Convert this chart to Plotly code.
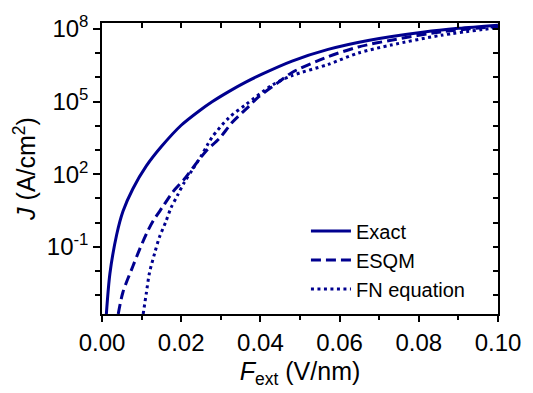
import numpy as np
import plotly.graph_objects as go

# Data (F in V/nm, log10 of J in A/cm^2)
F_exact = [0.0011, 0.0020, 0.0037, 0.0053, 0.0078, 0.0112, 0.0150, 0.0200, 0.0246, 0.0279,
           0.0321, 0.0363, 0.0404, 0.0480, 0.0571, 0.0672, 0.0814, 0.0900, 0.1000]
logJ_exact = [-3.77, -2.1, -0.5, 0.47, 1.4, 2.34, 3.14, 4.02, 4.62, 5.0,
              5.42, 5.8, 6.13, 6.67, 7.15, 7.52, 7.87, 8.02, 8.15]

F_esqm = [0.0041, 0.0053, 0.0078, 0.0095, 0.0116, 0.0129, 0.0154, 0.0179, 0.0208, 0.0233,
          0.0262, 0.0296, 0.0329, 0.0367, 0.0396, 0.0446, 0.0480, 0.0571, 0.0647, 0.0730,
          0.0855, 0.1000]
logJ_esqm = [-3.77, -2.86, -1.8, -1.1, -0.33, 0.07, 0.67, 1.27, 1.8, 2.34,
             2.94, 3.47, 4.14, 4.74, 5.2, 5.8, 6.2, 6.85, 7.25, 7.53,
             7.87, 8.1]

F_fn = [0.0104, 0.0112, 0.0120, 0.0133, 0.0145, 0.0162, 0.0174, 0.0191, 0.0208, 0.0229,
        0.0250, 0.0266, 0.0279, 0.0321, 0.0363, 0.0429, 0.0480, 0.0571, 0.0647, 0.0730,
        0.0855, 0.1000]
logJ_fn = [-3.77, -2.9, -2.06, -1.26, -0.6, 0.07, 0.6, 1.14, 1.67, 2.2,
           2.74, 3.2, 3.55, 4.34, 4.87, 5.67, 6.07, 6.53, 7.0, 7.33,
           7.73, 8.05]

series_names = ["Exact", "ESQM", "FN equation"]
y_major = [1e-1, 1e2, 1e5, 1e8]
y_major_text = ["10<sup>-1</sup>", "10<sup>2</sup>", "10<sup>5</sup>", "10<sup>8</sup>"]
y_minor = [10.0 ** k for k in range(-3, 9)]
x_major = [0.0, 0.02, 0.04, 0.06, 0.08, 0.10]
x_major_text = ["0.00", "0.02", "0.04", "0.06", "0.08", "0.10"]
x_minor = [0.01, 0.03, 0.05, 0.07, 0.09]
x_all = [i / 100 for i in range(0, 11)]

COLOR = "#00008F"
FONT = "Arial, Liberation Sans, sans-serif"
XR = [0, 0.1]
YR = [-3.77, 8.24]

fig = go.Figure()
fig.add_trace(go.Scatter(x=F_exact, y=10 ** np.array(logJ_exact), mode="lines",
                         line=dict(color=COLOR, width=3, shape="spline", smoothing=0.8),
                         name=series_names[0]))
fig.add_trace(go.Scatter(x=F_esqm, y=10 ** np.array(logJ_esqm), mode="lines",
                         line=dict(color=COLOR, width=3, dash="10px,5px", shape="spline",
                                   smoothing=0.8), name=series_names[1]))
fig.add_trace(go.Scatter(x=F_fn, y=10 ** np.array(logJ_fn), mode="lines",
                         line=dict(color=COLOR, width=3, dash="3px,3.5px", shape="spline",
                                   smoothing=0.8), name=series_names[2]))
# dummy trace to create overlay axes for inner ticks on top/right
fig.add_trace(go.Scatter(x=[None], y=[None], xaxis="x2", yaxis="y2", showlegend=False,
                         hoverinfo="skip"))

fig.update_layout(
    width=533, height=393,
    margin=dict(l=102, r=32, t=16, b=77),
    paper_bgcolor="white", plot_bgcolor="white",
    font=dict(family=FONT, color="black", size=24),
    showlegend=True,
    legend=dict(x=0.515, y=0.352, xanchor="left", yanchor="top",
                font=dict(size=20, family=FONT), bgcolor="rgba(0,0,0,0)",
                tracegroupgap=0, itemwidth=40),
    xaxis=dict(range=XR, showgrid=False, zeroline=False, showline=True, linecolor="black",
               linewidth=1.5, mirror=True, ticks="outside", ticklen=6, tickwidth=1.5,
               tickcolor="black", tickmode="array", tickvals=x_major, ticktext=x_major_text,
               minor=dict(tickmode="array", tickvals=x_minor, ticks="outside", ticklen=4,
                          tickwidth=1.5, tickcolor="black"),
               tickfont=dict(size=24),
               title=dict(text="<i>F</i><sub>ext</sub> (V/nm)", font=dict(size=25), standoff=8)),
    yaxis=dict(type="log", range=YR, showgrid=False, zeroline=False, showline=True,
               linecolor="black", linewidth=1.5, mirror=True, ticks="outside", ticklen=7,
               tickwidth=1.5, tickcolor="black", tickmode="array", tickvals=y_major,
               ticktext=y_major_text,
               minor=dict(tickmode="array", tickvals=y_minor, ticks="outside", ticklen=5,
                          tickwidth=1.5, tickcolor="black"),
               tickfont=dict(size=24),
               title=dict(text="<i>J</i> (A/cm<sup>2</sup>)", font=dict(size=25), standoff=4)),
    xaxis2=dict(overlaying="x", side="top", range=XR, showgrid=False, zeroline=False,
                showline=False, ticks="inside", ticklen=5, tickwidth=1.5, tickcolor="black",
                tickmode="array", tickvals=x_all, showticklabels=False, anchor="y2"),
    yaxis2=dict(overlaying="y", side="right", type="log", range=YR, showgrid=False,
                zeroline=False, showline=False, ticks="inside", ticklen=5, tickwidth=1.5,
                tickcolor="black", tickmode="array", tickvals=y_minor, showticklabels=False,
                anchor="x2"),
)

fig.write_html("out.html")
